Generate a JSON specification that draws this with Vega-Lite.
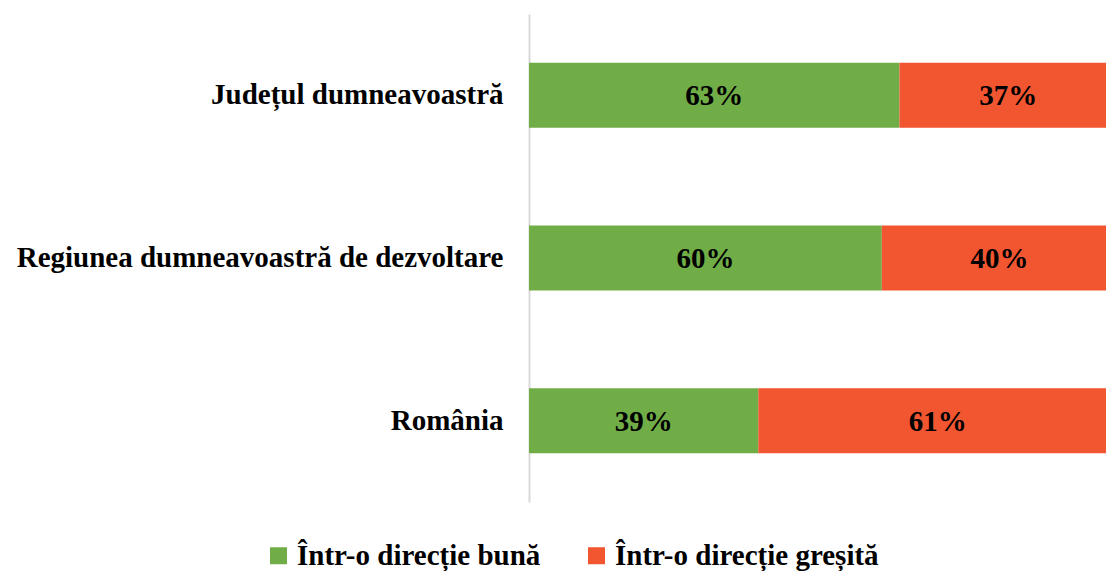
{
  "$schema": "https://vega.github.io/schema/vega-lite/v6.json",
  "autosize": "none",
  "width": 588,
  "height": 488,
  "padding": {"left": 529, "top": 14, "right": 0, "bottom": 69},
  "background": "white",
  "config": {"view": {"stroke": null}, "font": "Liberation Serif"},
  "data": {"values": [
    {"cat": "Județul dumneavoastră", "ord": 1, "series": "Într-o direcție bună", "so": 1, "value": 63, "label": "63%"},
    {"cat": "Județul dumneavoastră", "ord": 1, "series": "Într-o direcție greșită", "so": 2, "value": 37, "label": "37%"},
    {"cat": "Regiunea dumneavoastră de dezvoltare", "ord": 2, "series": "Într-o direcție bună", "so": 1, "value": 60, "label": "60%"},
    {"cat": "Regiunea dumneavoastră de dezvoltare", "ord": 2, "series": "Într-o direcție greșită", "so": 2, "value": 40, "label": "40%"},
    {"cat": "România", "ord": 3, "series": "Într-o direcție bună", "so": 1, "value": 39, "label": "39%"},
    {"cat": "România", "ord": 3, "series": "Într-o direcție greșită", "so": 2, "value": 61, "label": "61%"}
  ]},
  "transform": [
    {"stack": "value", "groupby": ["cat"], "sort": [{"field": "so", "order": "ascending"}], "as": ["v0", "v1"]},
    {"calculate": "(datum.v0 + datum.v1) / 2", "as": "mid"}
  ],
  "encoding": {
    "y": {
      "field": "cat", "type": "nominal", "title": null,
      "sort": {"field": "ord", "order": "ascending"},
      "scale": {"paddingInner": 0.6, "paddingOuter": 0.3},
      "axis": {
        "domainColor": "#d9d9d9", "domainWidth": 2, "ticks": false, "grid": false,
        "labelFont": "Liberation Serif", "labelFontWeight": "bold", "labelFontSize": 29,
        "labelColor": "#000000", "labelPadding": 26, "labelLimit": 800
      }
    }
  },
  "layer": [
    {
      "mark": {"type": "bar"},
      "encoding": {
        "x": {"field": "v0", "type": "quantitative", "scale": {"domain": [0, 100], "nice": false}, "axis": null},
        "x2": {"field": "v1"},
        "color": {
          "field": "series", "type": "nominal", "title": null,
          "scale": {"domain": ["Într-o direcție bună", "Într-o direcție greșită"], "range": ["#70AD47", "#F15631"]},
          "legend": {
            "orient": "none", "legendX": -265, "legendY": 527, "direction": "horizontal",
            "symbolType": "square", "symbolSize": 289, "symbolStrokeWidth": 0,
            "labelFont": "Liberation Serif", "labelFontWeight": "bold", "labelFontSize": 29,
            "labelColor": "#000000", "labelLimit": 800, "columnPadding": 41, "labelOffset": 4
          }
        }
      }
    },
    {
      "mark": {"type": "text", "font": "Liberation Serif", "fontWeight": "bold", "fontSize": 29, "color": "#000000", "baseline": "middle", "align": "center", "dy": 1},
      "encoding": {
        "x": {"field": "mid", "type": "quantitative"},
        "text": {"field": "label", "type": "nominal"},
        "detail": {"field": "series"}
      }
    }
  ]
}
